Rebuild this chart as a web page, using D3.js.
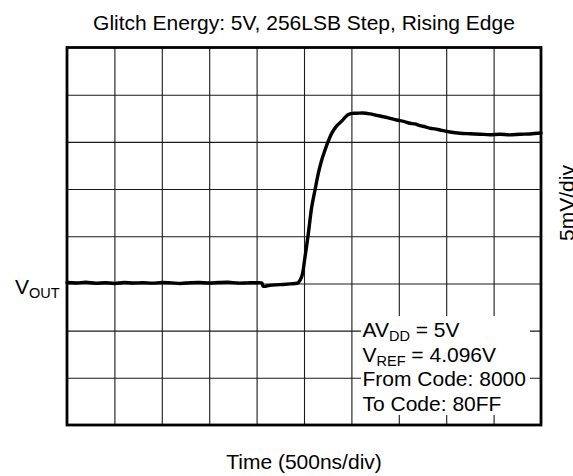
<!DOCTYPE html>
<html>
<head>
<meta charset="utf-8">
<script src="https://cdn.jsdelivr.net/npm/d3@7"></script>
<style>
  html, body { margin: 0; padding: 0; background: #fff; }
  svg { display: block; font-family: "Liberation Sans", Arial, Helvetica, sans-serif; }
</style>
</head>
<body>
<svg id="chart" width="573" height="476"></svg>
<script>
// Scope capture: time in ns, output deviation in mV
const timeNs = [
  0, 100, 200, 300, 400, 500, 600, 700, 800, 900, 1000, 1100, 1200, 1300, 1400,
  1500, 1600, 1700, 1800, 1900, 2000, 2054, 2070, 2140, 2247, 2352, 2426, 2440,
  2476, 2511, 2546, 2582, 2616, 2651, 2687, 2722, 2757, 2792, 2845, 2898, 2933,
  2968, 3010, 3056, 3120, 3197, 3250, 3302, 3390, 3478, 3550, 3619, 3670, 3724,
  3780, 3830, 3880, 3935, 4040, 4146, 4250, 4357, 4460, 4568, 4670, 4779, 4884, 5000
];
const voutMv = [
  0.10, 0.05, 0.12, 0.02, 0.08, 0.00, 0.10, 0.05, 0.08, 0.03, 0.10, 0.06, 0.00,
  0.08, 0.10, 0.05, 0.10, 0.12, 0.04, 0.06, 0.08, 0.05, -0.30, -0.20, -0.13,
  -0.05, 0.02, 0.08, 0.72, 2.84, 5.32, 8.14, 9.90, 11.67, 13.08, 14.14, 15.10,
  15.90, 16.70, 17.20, 17.60, 17.90, 18.02, 18.03, 18.06, 17.96, 17.85, 17.74,
  17.55, 17.32, 17.18, 16.97, 16.90, 16.72, 16.60, 16.44, 16.38, 16.26, 16.05,
  15.91, 15.86, 15.81, 15.76, 15.81, 15.74, 15.81, 15.84, 15.94
];

// Divisions: 500 ns/div horizontally, 5 mV/div vertically
const xTicks = [500, 1000, 1500, 2000, 2500, 3000, 3500, 4000, 4500];
const yTicks = [-10, -5, 0, 5, 10, 15, 20];

const titleText = "Glitch Energy: 5V, 256LSB Step, Rising Edge";
const xLabel = "Time (500ns/div)";
const yLabelRight = "5mV/div";

const plot = { left: 67, top: 47.5, right: 541, bottom: 425 };
const W = plot.right - plot.left, H = plot.bottom - plot.top;

const svg = d3.select("#chart");
const g = svg.append("g").attr("transform", `translate(${plot.left},${plot.top})`);

const x = d3.scaleLinear().domain([0, 5000]).range([0, W]);
const y = d3.scaleLinear().domain([-15, 25]).range([H, 0]);

// Grid
const gx = g.append("g").attr("transform", `translate(0,${H})`)
  .call(d3.axisBottom(x).tickValues(xTicks).tickSize(-H).tickFormat(""));
const gy = g.append("g")
  .call(d3.axisLeft(y).tickValues(yTicks).tickSize(-W).tickFormat(""));
[gx, gy].forEach(a => {
  a.select(".domain").remove();
  a.selectAll(".tick line").attr("stroke", "#1a1a1a").attr("stroke-width", 1.1);
});

// Trace
const line = d3.line().x((d, i) => x(timeNs[i])).y(d => y(d)).curve(d3.curveCatmullRom.alpha(0.5));
g.append("path")
  .datum(voutMv)
  .attr("d", line)
  .attr("fill", "none")
  .attr("stroke", "#000")
  .attr("stroke-width", 3.4)
  .attr("stroke-linejoin", "round")
  .attr("stroke-linecap", "round");

// Conditions box
g.append("rect")
  .attr("x", 361 - plot.left).attr("y", 316 - plot.top)
  .attr("width", 530 - 361).attr("height", 415 - 316)
  .attr("fill", "#fff");

const fs = 21, sub = 14.5;
const notes = g.append("g").attr("font-size", fs).attr("fill", "#000");
const lx = 362.5 - plot.left;
const baselines = [336.7, 361.5, 386, 410.5].map(v => v - plot.top);

let t = notes.append("text").attr("x", lx).attr("y", baselines[0]);
t.append("tspan").text("AV");
t.append("tspan").attr("font-size", sub).attr("dy", 4).text("DD");
t.append("tspan").attr("dy", -4).text(" = 5V");

t = notes.append("text").attr("x", lx).attr("y", baselines[1]);
t.append("tspan").text("V");
t.append("tspan").attr("font-size", sub).attr("dy", 4).text("REF");
t.append("tspan").attr("dy", -4).text(" = 4.096V");

notes.append("text").attr("x", lx).attr("y", baselines[2]).text("From Code: 8000");
notes.append("text").attr("x", lx).attr("y", baselines[3]).text("To Code: 80FF");

// Frame
g.append("rect")
  .attr("x", 0).attr("y", 0).attr("width", W).attr("height", H)
  .attr("fill", "none").attr("stroke", "#000").attr("stroke-width", 2.8);

// Labels
svg.append("text")
  .attr("x", (plot.left + plot.right) / 2).attr("y", 30)
  .attr("text-anchor", "middle").attr("font-size", fs)
  .text(titleText);

svg.append("text")
  .attr("x", (plot.left + plot.right) / 2).attr("y", 469)
  .attr("text-anchor", "middle").attr("font-size", fs)
  .text(xLabel);

const vout = svg.append("text").attr("x", 15).attr("y", 294).attr("font-size", fs);
vout.append("tspan").text("V");
vout.append("tspan").attr("font-size", sub).attr("dy", 4).text("OUT");

svg.append("text")
  .attr("transform", "translate(574,203) rotate(-90)")
  .attr("text-anchor", "middle").attr("font-size", fs)
  .text(yLabelRight);
</script>
</body>
</html>
